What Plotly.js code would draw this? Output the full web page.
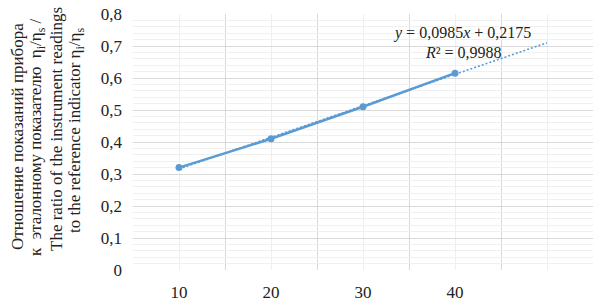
<!DOCTYPE html>
<html><head><meta charset="utf-8">
<script src="https://cdn.plot.ly/plotly-3.0.1.min.js"></script>
<style>body{margin:0;background:#fff}#c{width:607px;height:308px}</style>
</head><body><div id="c"></div>
<script>
const categories = ['10', '20', '30', '40', ''];
const ratios = [0.32, 0.41, 0.51, 0.615];
const yTicks = [0, 0.1, 0.2, 0.3, 0.4, 0.5, 0.6, 0.7, 0.8];
const titleLines = [
  'Отношение показаний прибора',
  'к  эталонному показателю  η<sub>i</sub>/η<sub>s</sub> /',
  'The ratio of the instrument readings',
  'to the reference indicator η<sub>i</sub>/η<sub>s</sub>'
];

// category positions 1..n (Excel-style category axis)
const xs = ratios.map((_, i) => i + 1);
// linear least-squares trendline from the data, forecast 1 period forward
const n = xs.length;
const mx = xs.reduce((a, b) => a + b, 0) / n;
const my = ratios.reduce((a, b) => a + b, 0) / n;
let sxy = 0, sxx = 0, syy = 0;
xs.forEach((x, i) => { sxy += (x - mx) * (ratios[i] - my); sxx += (x - mx) ** 2; syy += (ratios[i] - my) ** 2; });
const slope = sxy / sxx, intercept = my - slope * mx;
const r2 = (sxy * sxy) / (sxx * syy);
const trendX = [1, categories.length];
const trendY = trendX.map(x => slope * x + intercept);
const fmt = (v, d) => v.toFixed(d).replace('.', ',');

const font = "'Liberation Serif', serif";
const blue = '#5B9BD5';
const FS = 17;

const traces = [
  { x: trendX, y: trendY, mode: 'lines', line: { color: blue, width: 1.6, dash: '2px,2px' }, hoverinfo: 'skip' },
  { x: xs, y: ratios, mode: 'lines+markers', line: { color: blue, width: 2.5 },
    marker: { color: blue, size: 7, symbol: 'circle' } }
];

const titleX = [-116, -96, -77, -57];
const titleY = [5, 5, 13, 11];
const titleAnn = titleLines.map((t, i) => ({
  xref: 'paper', yref: 'paper', x: 0, y: 0.5, xanchor: 'center', yanchor: 'middle',
  xshift: titleX[i], yshift: titleY[i], textangle: -90, showarrow: false,
  font: { family: font, size: FS, color: '#222' }, text: t
}));

const layout = {
  width: 607, height: 308,
  margin: { l: 133, r: 14, t: 14, b: 38 },
  showlegend: false,
  separators: ', ',
  paper_bgcolor: '#fff', plot_bgcolor: '#fff',
  font: { family: font, size: FS, color: '#222' },
  xaxis: {
    range: [0.5, categories.length + 0.5],
    tickmode: 'array', tickvals: categories.map((_, i) => i + 1), ticktext: categories,
    showgrid: true, gridcolor: '#efefef', gridwidth: 1,
    zeroline: false, showline: false, ticks: '',
    ticklabelstandoff: 10,
    tickfont: { family: font, size: FS, color: '#222' },
    minor: { tickmode: 'array', tickvals: categories.concat(['']).map((_, i) => i + 0.5),
             showgrid: true, gridcolor: '#d9d9d9', gridwidth: 1, ticks: '' },
    fixedrange: true
  },
  yaxis: {
    range: [0, 0.8],
    tickmode: 'array', tickvals: yTicks, ticktext: yTicks.map(v => v === 0 ? '0' : fmt(v, 1)),
    showgrid: true, gridcolor: '#d9d9d9', gridwidth: 1,
    zeroline: false, showline: false, ticks: '',
    ticklabelstandoff: 10,
    tickfont: { family: font, size: FS, color: '#222' },
    minor: { dtick: 0.02, showgrid: true, gridcolor: '#f0f0f0', gridwidth: 1, ticks: '' },
    fixedrange: true
  },
  annotations: titleAnn.concat([
    { xref: 'x', yref: 'y', x: 4.076, y: 0.74, showarrow: false, xanchor: 'center', yanchor: 'middle',
      borderpad: 0, font: { family: font, size: 16, color: '#222' },
      text: '<i>y</i> = ' + fmt(slope, 4) + '<i>x</i> + ' + fmt(intercept, 4) },
    { xref: 'x', yref: 'y', x: 4.09, y: 0.681, showarrow: false, xanchor: 'center', yanchor: 'middle',
      borderpad: 0, font: { family: font, size: 16, color: '#222' },
      text: '<i>R</i>² = ' + fmt(r2, 4) }
  ])
};
Plotly.newPlot('c', traces, layout, { displayModeBar: false, staticPlot: true });
</script></body></html>
